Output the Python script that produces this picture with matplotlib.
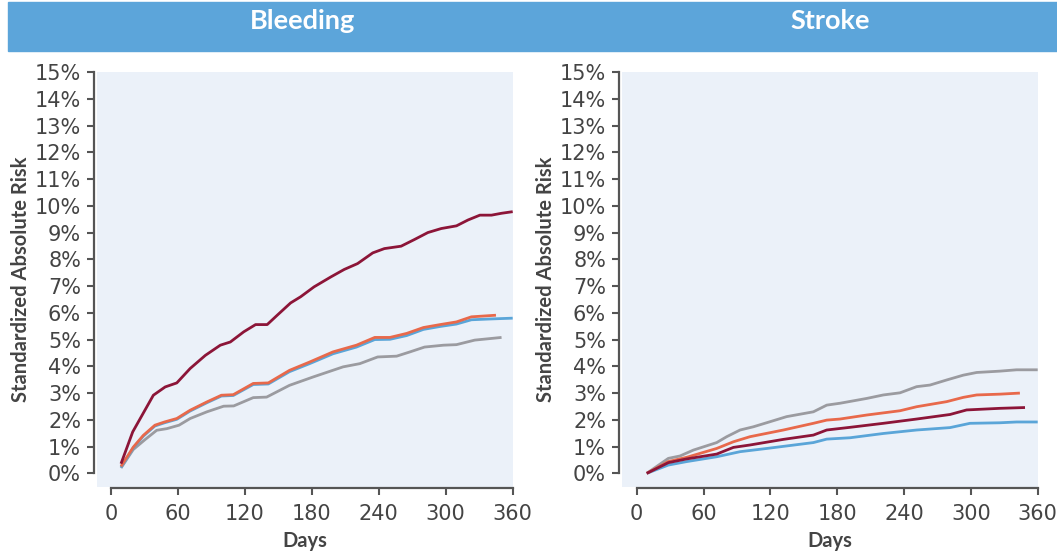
import matplotlib
matplotlib.use("Agg")
import matplotlib.pyplot as plt
from matplotlib.patches import Rectangle

# ── data (days, standardized absolute risk %) ────────────────────────────────
bleed_maroon_d = [9, 19.5, 38, 48.6, 59, 71, 84.6, 98, 107, 119, 129.6, 140, 149, 161, 170,
                  182, 197, 209, 221, 234.6, 245, 260, 272, 284, 296, 309.6, 320, 330.6,
                  341, 350, 360]
bleed_maroon_r = [0.36, 1.55, 2.92, 3.23, 3.38, 3.92, 4.41, 4.79, 4.91, 5.29, 5.56, 5.56,
                  5.91, 6.37, 6.60, 6.97, 7.34, 7.62, 7.84, 8.24, 8.40, 8.49, 8.74, 9.00,
                  9.15, 9.25, 9.47, 9.65, 9.65, 9.72, 9.78]

bleed_orange_d = [9, 20, 29, 39.4, 48, 59, 71, 86, 99, 109.6, 127.5, 141, 160, 178, 199,
                  220, 236.4, 250, 265, 280, 295, 309.6, 323, 345]
bleed_orange_r = [0.26, 0.98, 1.42, 1.80, 1.92, 2.05, 2.36, 2.67, 2.92, 2.94, 3.36, 3.38,
                  3.85, 4.16, 4.54, 4.79, 5.08, 5.08, 5.23, 5.45, 5.56, 5.66, 5.85, 5.91]

bleed_blue_d = [9, 20, 29, 39.4, 48, 59, 71, 86, 99, 109.6, 127.5, 141, 160, 178, 199,
                220, 236.4, 250, 265, 280, 295, 309.6, 323, 340, 360]
bleed_blue_r = [0.22, 0.95, 1.39, 1.77, 1.89, 2.02, 2.33, 2.64, 2.89, 2.91, 3.32, 3.34,
                3.80, 4.10, 4.47, 4.72, 5.00, 5.01, 5.15, 5.38, 5.49, 5.58, 5.74, 5.77, 5.80]

bleed_gray_d = [9, 20, 30.5, 41, 50, 61, 71, 86, 101, 110, 127.5, 139.5, 160, 181, 208,
                223, 239, 256, 268, 281, 298, 309.6, 326, 350]
bleed_gray_r = [0.20, 0.89, 1.26, 1.61, 1.67, 1.80, 2.05, 2.30, 2.51, 2.52, 2.83, 2.85,
                3.29, 3.60, 3.98, 4.10, 4.35, 4.38, 4.54, 4.72, 4.79, 4.81, 4.98, 5.08]

stroke_gray_d = [9, 28.4, 38.9, 50.9, 71.8, 80.8, 92.8, 104.7, 119.7, 134.6, 158.6, 170.6,
                 182.5, 206.5, 221.4, 236.4, 251.3, 263.3, 278.3, 293.2, 305.2, 326, 341, 360]
stroke_gray_r = [0.0, 0.56, 0.65, 0.87, 1.15, 1.37, 1.62, 1.74, 1.93, 2.12, 2.30, 2.55,
                 2.62, 2.80, 2.93, 3.01, 3.24, 3.30, 3.49, 3.67, 3.77, 3.82, 3.87, 3.87]

stroke_orange_d = [9, 28.4, 44.9, 71.8, 86.8, 101.7, 131.7, 158.6, 170.6, 182.5, 206.5,
                   236.4, 251.3, 278.3, 293.2, 305.2, 326, 344]
stroke_orange_r = [0.0, 0.44, 0.60, 0.93, 1.18, 1.37, 1.62, 1.87, 1.99, 2.03, 2.18, 2.34,
                   2.49, 2.68, 2.84, 2.93, 2.96, 3.00]

stroke_maroon_d = [9, 28.4, 44.9, 71.8, 86.8, 101.7, 131.7, 158.6, 170.6, 191.5, 221.4,
                   251.3, 281.3, 296.2, 326, 348.6]
stroke_maroon_r = [0.0, 0.40, 0.54, 0.72, 0.97, 1.06, 1.27, 1.43, 1.62, 1.72, 1.87, 2.03,
                   2.20, 2.37, 2.43, 2.46]

stroke_blue_d = [9, 28.4, 44.9, 71.8, 92.8, 116.7, 158.6, 170.6, 191.5, 221.4, 251.3,
                 281.3, 299.2, 326, 341, 360]
stroke_blue_r = [0.0, 0.31, 0.44, 0.62, 0.81, 0.93, 1.15, 1.28, 1.33, 1.49, 1.62, 1.71,
                 1.87, 1.89, 1.92, 1.92]

panel_titles = ["Bleeding", "Stroke"]
x_ticks = [0, 60, 120, 180, 240, 300, 360]
y_ticks = list(range(0, 16))

# ── style ────────────────────────────────────────────────────────────────────
MAROON = "#8C1538"
ORANGE = "#E8694B"
BLUE = "#5AA5D8"
GRAY = "#9B9BA0"
BG = "#EBF1F9"
HEADER = "#5CA5DA"
TXT = "#444444"
TICK_FONT = ["Liberation Sans Narrow", "DejaVu Sans"]
LABEL_FONT = ["Lato", "DejaVu Sans"]

W, H = 1057, 554
fig = plt.figure(figsize=(W / 100, H / 100), dpi=100)

# header band
fig.patches.append(Rectangle((8 / W, 1 - 51 / H), 1 - 8 / W, 49 / H,
                             transform=fig.transFigure, color=HEADER, zorder=0))
fig.text(303 / W, 1 - 21 / H, panel_titles[0], color="white", fontsize=19.5,
         fontweight="bold", family=LABEL_FONT, ha="center", va="center")
fig.text(830 / W, 1 - 21 / H, panel_titles[1], color="white", fontsize=19.5,
         fontweight="bold", family=LABEL_FONT, ha="center", va="center")

panels = [
    dict(rect=[97 / W, 1 - 487 / H, 415.7 / W, 415 / H], xmin=-12.5,
         series=[(bleed_gray_d, bleed_gray_r, GRAY),
                 (bleed_blue_d, bleed_blue_r, BLUE),
                 (bleed_orange_d, bleed_orange_r, ORANGE),
                 (bleed_maroon_d, bleed_maroon_r, MAROON)]),
    dict(rect=[622 / W, 1 - 487 / H, 415.7 / W, 415 / H], xmin=-13.2,
         series=[(stroke_gray_d, stroke_gray_r, GRAY),
                 (stroke_blue_d, stroke_blue_r, BLUE),
                 (stroke_orange_d, stroke_orange_r, ORANGE),
                 (stroke_maroon_d, stroke_maroon_r, MAROON)]),
]

for p in panels:
    ax = fig.add_axes(p["rect"])
    ax.set_facecolor(BG)
    for d, r, c in p["series"]:
        ax.plot(d, r, color=c, lw=2.0, solid_joinstyle="round", solid_capstyle="butt")
    ax.set_xlim(p["xmin"], 360)
    ax.set_ylim(-0.51, 15)

    for s in ["top", "right"]:
        ax.spines[s].set_visible(False)
    ax.spines["left"].set_position(("outward", 2.5))
    ax.spines["bottom"].set_position(("outward", 1))
    ax.spines["left"].set_bounds(0, 15)
    ax.spines["bottom"].set_bounds(0, 360)
    for s in ["left", "bottom"]:
        ax.spines[s].set_color("#555555")
        ax.spines[s].set_linewidth(1.6)

    ax.set_xticks(x_ticks)
    ax.set_yticks(y_ticks)
    ax.set_yticklabels([f"{v}%" for v in y_ticks])
    ax.tick_params(axis="both", colors="#555555", width=1.5, length=5,
                   labelcolor=TXT, labelsize=15)
    ax.tick_params(axis="y", pad=4)
    ax.tick_params(axis="x", pad=6)
    for lab in ax.get_xticklabels() + ax.get_yticklabels():
        lab.set_family(TICK_FONT)

    ax.set_xlabel("Days", fontsize=14.5, fontweight="bold", color=TXT,
                  family=LABEL_FONT, labelpad=5)
    ax.set_ylabel("Standardized Absolute Risk", fontsize=14.5, fontweight="bold",
                  color=TXT, family=LABEL_FONT, labelpad=3)

fig.savefig("out.png", dpi=100)
